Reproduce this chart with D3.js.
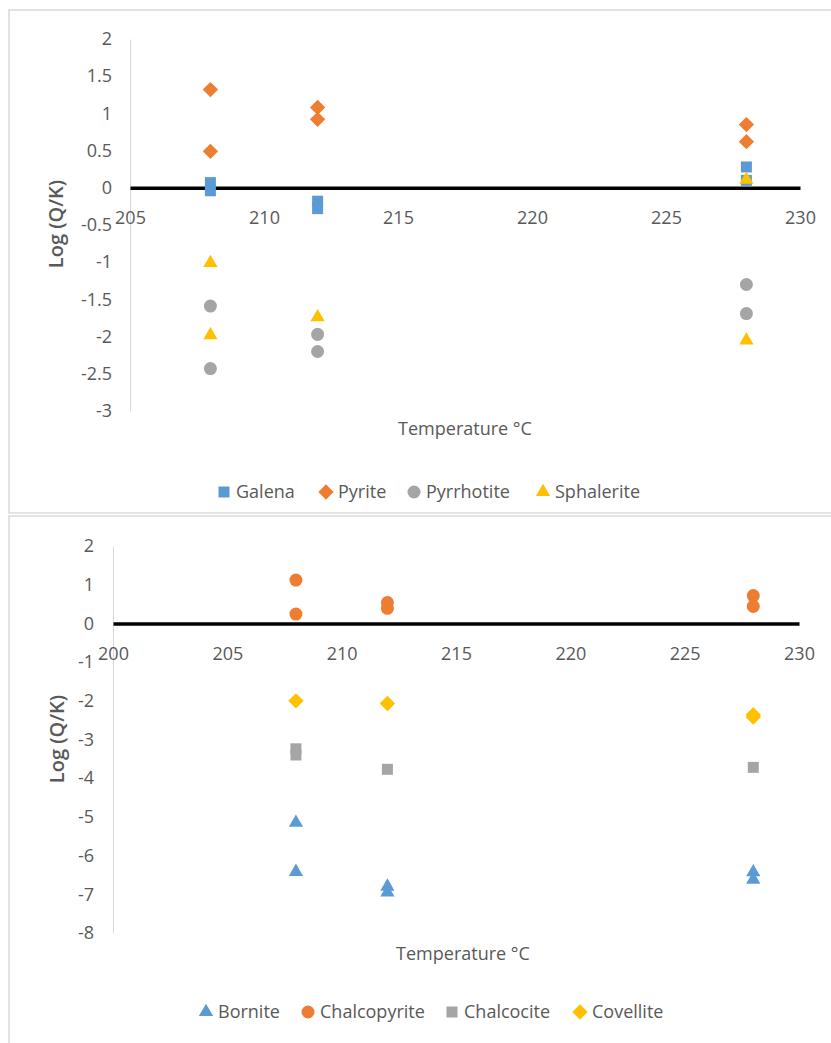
<!DOCTYPE html>
<html>
<head>
<meta charset="utf-8">
<script src="https://cdn.jsdelivr.net/npm/d3@7"></script>
<style>
  body { margin: 0; background: #fff; }
  svg text { font-family: "Open Sans", "Liberation Sans", sans-serif; fill: #595959; }
</style>
</head>
<body>
<div id="chart"></div>
<script>

// Top panel: Pb/Fe/Zn sulfides, [temperature, log(Q/K)]
var galena     = [[208, 0.07], [208, -0.04], [212, -0.18], [212, -0.28], [228, 0.28], [228, 0.10]];
var pyrite     = [[208, 1.32], [208, 0.49], [212, 1.08], [212, 0.92], [228, 0.85], [228, 0.62]];
var pyrrhotite = [[208, -1.59], [208, -2.43], [212, -1.97], [212, -2.20], [228, -1.30], [228, -1.69]];
var sphalerite = [[208, -1.01], [208, -1.98], [212, -1.74], [228, 0.11], [228, -2.05]];

// Bottom panel: Cu sulfides
var bornite      = [[208, -5.15], [208, -6.42], [212, -6.80], [212, -6.95], [228, -6.43], [228, -6.62]];
var chalcopyrite = [[208, 1.12], [208, 0.24], [212, 0.54], [212, 0.39], [228, 0.72], [228, 0.44]];
var chalcocite   = [[208, -3.24], [208, -3.40], [212, -3.77], [228, -3.72]];
var covellite    = [[208, -2.00], [212, -2.07], [228, -2.36], [228, -2.42]];

var topXTicks = [205, 210, 215, 220, 225, 230];
var topYTicks = [-3, -2.5, -2, -1.5, -1, -0.5, 0, 0.5, 1, 1.5, 2];
var botXTicks = [200, 205, 210, 215, 220, 225, 230];
var botYTicks = [-8, -7, -6, -5, -4, -3, -2, -1, 0, 1, 2];

var blue = "#5b9bd5", orange = "#ed7d31", grey = "#a5a5a5", yellow = "#ffc000";

var svg = d3.select("#chart")
  .append("svg")
  .attr("width", 831)
  .attr("height", 1043);

// panel frames
svg.append("rect").attr("x", 9).attr("y", 10).attr("width", 840).attr("height", 503)
  .attr("fill", "none").attr("stroke", "#d9d9d9").attr("stroke-width", 1.5);
svg.append("rect").attr("x", 9).attr("y", 516).attr("width", 840).attr("height", 540)
  .attr("fill", "none").attr("stroke", "#d9d9d9").attr("stroke-width", 1.5);

function symbolFor(name) {
  return {
    square: d3.symbol().type(d3.symbolSquare).size(121),
    diamond: d3.symbol().type(d3.symbolDiamond2).size(150),
    circle: d3.symbol().type(d3.symbolCircle).size(133),
    triangle: d3.symbol().type(d3.symbolTriangle).size(88)
  }[name];
}

function scatterPanel(opt) {
  var x = d3.scaleLinear().domain(opt.xDomain).range(opt.xRange);
  var y = d3.scaleLinear().domain(opt.yDomain).range(opt.yRange);

  var yAxis = d3.axisLeft(y).tickValues(opt.yTicks)
    .tickSize(0).tickPadding(opt.yPad).tickFormat(function (d) { return String(d); });
  var gy = svg.append("g")
    .attr("transform", "translate(" + opt.xRange[0] + ",0)")
    .call(yAxis);
  gy.select(".domain").attr("stroke", "#d9d9d9").attr("stroke-width", 1);
  gy.selectAll("text").attr("font-size", 18).attr("fill", "#595959")
    .style("font-family", "'Open Sans', sans-serif");

  var xAxis = d3.axisBottom(x).tickValues(opt.xTicks)
    .tickSize(0).tickPadding(opt.xPad).tickFormat(function (d) { return String(d); });
  var gx = svg.append("g")
    .attr("transform", "translate(0," + y(0) + ")")
    .call(xAxis);
  gx.select(".domain").attr("stroke", "#000").attr("stroke-width", 3.5);
  gx.selectAll("text").attr("font-size", 18).attr("fill", "#595959")
    .style("font-family", "'Open Sans', sans-serif");

  svg.append("text")
    .attr("transform", "translate(" + opt.yTitleX + "," + opt.yTitleY + ") rotate(-90)")
    .attr("text-anchor", "middle")
    .attr("dy", "0.35em")
    .attr("font-size", 20)
    .attr("font-weight", 600)
    .text("Log (Q/K)");

  svg.append("text")
    .attr("x", opt.xTitleX)
    .attr("y", opt.xTitleY)
    .attr("dy", "0.35em")
    .attr("text-anchor", "middle")
    .attr("font-size", 18)
    .text("Temperature °C");

  opt.series.forEach(function (s) {
    svg.append("g").selectAll("path")
      .data(s.data).enter()
      .append("path")
      .attr("d", symbolFor(s.shape))
      .attr("transform", function (d) { return "translate(" + x(d[0]) + "," + y(d[1]) + ")"; })
      .attr("fill", s.color);
  });

  // legend
  var lg = svg.append("g");
  opt.series.forEach(function (s, i) {
    var lx = opt.legendX[i];
    lg.append("path")
      .attr("d", symbolFor(s.shape))
      .attr("transform", "translate(" + lx + "," + opt.legendY + ")")
      .attr("fill", s.color);
    lg.append("text")
      .attr("x", lx + 12)
      .attr("y", opt.legendY)
      .attr("dy", "0.35em")
      .attr("font-size", 18)
      .text(s.name);
  });
}

scatterPanel({
  xDomain: [205, 230], xRange: [130, 800],
  yDomain: [-3, 2], yRange: [411, 39],
  xTicks: topXTicks, yTicks: topYTicks,
  yPad: 18, xPad: 23,
  yTitleX: 56, yTitleY: 224,
  xTitleX: 465, xTitleY: 429,
  legendY: 492, legendX: [224, 326, 414, 543],
  series: [
    { name: "Galena", data: galena, color: blue, shape: "square" },
    { name: "Pyrite", data: pyrite, color: orange, shape: "diamond" },
    { name: "Pyrrhotite", data: pyrrhotite, color: grey, shape: "circle" },
    { name: "Sphalerite", data: sphalerite, color: yellow, shape: "triangle" }
  ]
});

scatterPanel({
  xDomain: [200, 230], xRange: [113, 799],
  yDomain: [-8, 2], yRange: [933, 546],
  xTicks: botXTicks, yTicks: botYTicks,
  yPad: 19, xPad: 24,
  yTitleX: 57, yTitleY: 739,
  xTitleX: 463, xTitleY: 954,
  legendY: 1012, legendX: [206, 308, 452, 580],
  series: [
    { name: "Bornite", data: bornite, color: blue, shape: "triangle" },
    { name: "Chalcopyrite", data: chalcopyrite, color: orange, shape: "circle" },
    { name: "Chalcocite", data: chalcocite, color: grey, shape: "square" },
    { name: "Covellite", data: covellite, color: yellow, shape: "diamond" }
  ]
});

</script>
</body>
</html>
